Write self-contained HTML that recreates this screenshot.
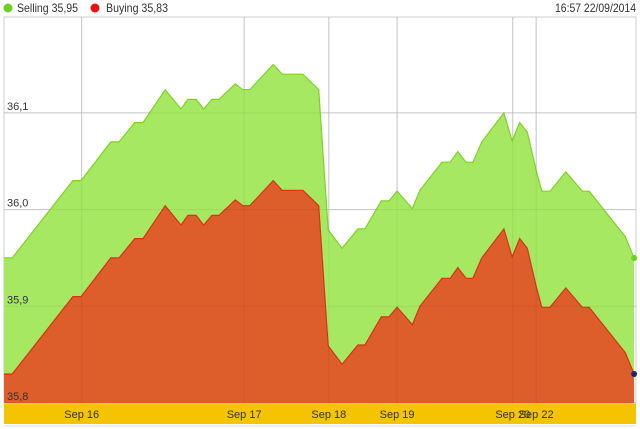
<!DOCTYPE html>
<html><head><meta charset="utf-8"><style>
body{margin:0;background:#fff;font-family:"Liberation Sans",sans-serif;}
svg{display:block}
</style></head><body>
<svg id="chart" width="640" height="429">
<rect x="0" y="0" width="640" height="429" fill="#fff"/>
<g>
<circle cx="8" cy="8" r="4.5" fill="#6fd11e"/>
<text x="17" y="12" font-size="12" fill="#333" textLength="61" lengthAdjust="spacingAndGlyphs">Selling 35,95</text>
<circle cx="95" cy="8" r="4.5" fill="#e8110f"/>
<text x="106" y="12" font-size="12" fill="#333" textLength="62" lengthAdjust="spacingAndGlyphs">Buying 35,83</text>
</g>
<text x="636" y="12" font-size="12" fill="#333" text-anchor="end" textLength="81" lengthAdjust="spacingAndGlyphs">16:57 22/09/2014</text>
<rect x="4" y="17" width="632" height="387" fill="none" stroke="#ccc"/>
<g id="grid"></g>
<g id="series"></g>
<g id="gridover"></g>
<rect x="4" y="404" width="632" height="20" fill="#f5c400"/>
<line x1="4" y1="426" x2="636" y2="426" stroke="#ddd"/>
<g id="xlabels"></g>
<g id="ylabels"></g>
</svg>
<script>
const times = [0,1.3,10.9,12.2,16.9,18.2,20.7,22.0,25.5,28.0,29.1,30.4,31.6,32.9,34.0,36.6,37.8,38.9,42.6,44.0,47.3,49.8,51.3,53.5,56.0,57.1,59.7,60.9,62.2,64.6,65.8,69.3,70.6,71.8,73.1,74.2,75.6,79.1,80.4,81.6,82.8,84.2,85.1,86.4,88.9,91.5,92.6,98.3,99.7];
const selling = [35.95,35.95,36.03,36.03,36.07,36.07,36.09,36.09,36.124,36.104,36.114,36.114,36.104,36.114,36.114,36.13,36.124,36.124,36.15,36.14,36.14,36.124,35.979,35.96,35.98,35.98,36.009,36.009,36.019,36.001,36.02,36.049,36.049,36.06,36.049,36.049,36.07,36.10,36.071,36.09,36.08,36.041,36.019,36.019,36.039,36.019,36.019,35.972,35.95];
const buying = [35.83,35.83,35.91,35.91,35.95,35.95,35.97,35.97,36.004,35.984,35.994,35.994,35.984,35.994,35.994,36.01,36.004,36.004,36.03,36.02,36.02,36.004,35.859,35.84,35.86,35.86,35.889,35.889,35.899,35.881,35.90,35.929,35.929,35.94,35.929,35.929,35.95,35.98,35.951,35.97,35.96,35.921,35.899,35.899,35.919,35.899,35.899,35.852,35.83];
const yTicks = [35.8,35.9,36.0,36.1];
const yTickLabels = ["35,8","35,9","36,0","36,1"];
const xTicks = [12.3,38.0,51.4,62.2,80.5,84.2];
const xTickLabels = ["Sep 16","Sep 17","Sep 18","Sep 19","Sep 20","Sep 22"];

const NS="http://www.w3.org/2000/svg";
const X0=4,X1=636,T0=0,T1=100,YB=403,V0=35.8,PXV=967;
const xs=t=>X0+(t-T0)/(T1-T0)*(X1-X0);
const ys=v=>YB-(v-V0)*PXV;
function mk(tag,attrs,parent){const e=document.createElementNS(NS,tag);for(const k in attrs)e.setAttribute(k,attrs[k]);parent.appendChild(e);return e;}
const grid=document.getElementById('grid'),ser=document.getElementById('series'),gov=document.getElementById('gridover');
yTicks.forEach((v,i)=>{
  const l=mk('line',{x1:X0,x2:X1,y1:ys(v),y2:ys(v),stroke:'#d0d0d0'},grid);
  
  
  const t=mk('text',{x:7,y:ys(v)-3,'font-size':11,fill:'#333'},document.getElementById('ylabels'));
  t.textContent=yTickLabels[i];
  
  
});
xTicks.forEach((tt,i)=>{
  const l=mk('line',{x1:xs(tt),x2:xs(tt),y1:17,y2:404,stroke:'#d0d0d0'},grid);
  
  
  const l2=mk('line',{x1:xs(tt),x2:xs(tt),y1:17,y2:404,stroke:'rgba(0,0,0,0.06)'},gov);
  
  
  const t=mk('text',{x:xs(tt),y:418,'font-size':11,fill:'#333','text-anchor':'middle'},document.getElementById('xlabels'));
  t.textContent=xTickLabels[i];
  
  
});
yTicks.forEach(v=>{
  const l=mk('line',{x1:X0,x2:X1,y1:ys(v),y2:ys(v),stroke:'rgba(0,0,0,0.06)'},gov);
  
  
});
function area(vals,fill,stroke,name){
  let d='M'+xs(times[0])+','+YB;
  let line='';
  vals.forEach((v,i)=>{d+=' L'+xs(times[i]).toFixed(1)+','+ys(v).toFixed(1);line+=(i?' L':'M')+xs(times[i]).toFixed(1)+','+ys(v).toFixed(1);});
  d+=' L'+xs(times[times.length-1])+','+YB+' Z';
  const a=mk('path',{d:d,fill:fill},ser);
  
  
  const l=mk('path',{d:line,fill:'none',stroke:stroke,'stroke-width':1.2},ser);
  
  
}
area(selling,'#a6e862','#7ed321','selling');
area(buying,'#dd5e2b','#d9321a','buying');
const n=times.length-1;
const d1=mk('circle',{cx:xs(times[n]),cy:ys(selling[n]),r:3,fill:'#6fd11e'},ser);


const d2=mk('circle',{cx:xs(times[n]),cy:ys(buying[n]),r:3,fill:'#1a2a6c'},ser);


</script>
</body></html>
